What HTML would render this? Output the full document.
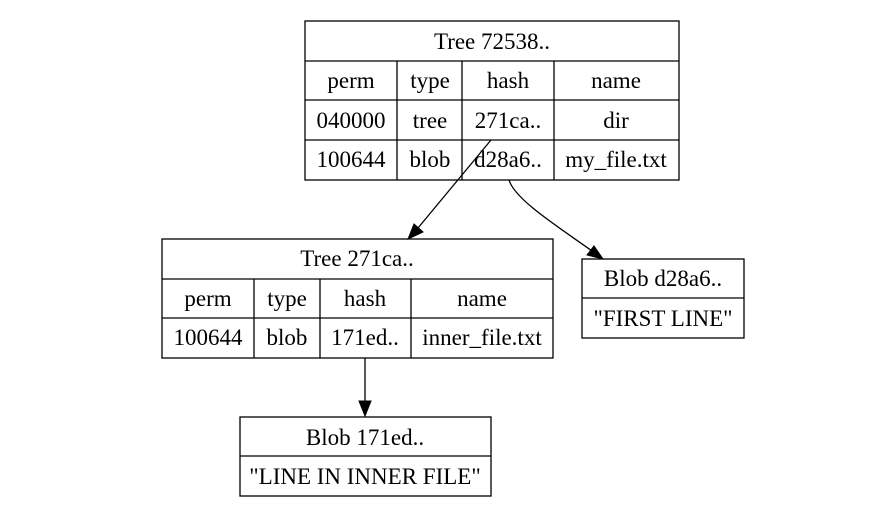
<!DOCTYPE html>
<html><head><style>body{margin:0;background:#fff}svg text{font-family:"Liberation Serif","Times New Roman",serif;font-size:23px;text-anchor:middle}</style></head><body>
<svg width="893" height="519" xmlns="http://www.w3.org/2000/svg">
<g fill="none" stroke="#000" stroke-width="1.3">
<rect x="305" y="21" width="374" height="159"/>
<path d="M305 61H679M305 100H679M305 140H679M397 61V180M462 61V180M554 61V180"/>
<rect x="162" y="239" width="391" height="119"/>
<path d="M162 279H553M162 318H553M254 279V358M320 279V358M411 279V358"/>
<rect x="582" y="259" width="162" height="79"/>
<path d="M582 298H744"/>
<rect x="240" y="417" width="251" height="79"/>
<path d="M240 456H491"/>
<path d="M491 140L418 228"/>
<path d="M509 180C515 200 560 228 592 251"/>
<path d="M365 358V402"/>
</g>
<g fill="#000" stroke="#000">
<polygon points="408,239 414,224 423,232"/>
<polygon points="603,259 587,255 594,246"/>
<polygon points="365,416 359,401 371,401"/>
</g>
<g fill="#000">
<text x="492" y="49">Tree 72538..</text>
<text x="351" y="88">perm</text><text x="430" y="88">type</text><text x="508" y="88">hash</text><text x="616" y="88">name</text>
<text x="351" y="128">040000</text><text x="430" y="128">tree</text><text x="508" y="128">271ca..</text><text x="616" y="128">dir</text>
<text x="351" y="167">100644</text><text x="430" y="167">blob</text><text x="508" y="167">d28a6..</text><text x="616" y="167">my_file.txt</text>
<text x="357" y="266">Tree 271ca..</text>
<text x="208" y="306">perm</text><text x="287" y="306">type</text><text x="365" y="306">hash</text><text x="482" y="306">name</text>
<text x="208" y="345">100644</text><text x="287" y="345">blob</text><text x="365" y="345">171ed..</text><text x="482" y="345">inner_file.txt</text>
<text x="663" y="286">Blob d28a6..</text>
<text x="663" y="326">"FIRST LINE"</text>
<text x="365" y="445">Blob 171ed..</text>
<text x="365" y="484">"LINE IN INNER FILE"</text>
</g>
</svg>
</body></html>
